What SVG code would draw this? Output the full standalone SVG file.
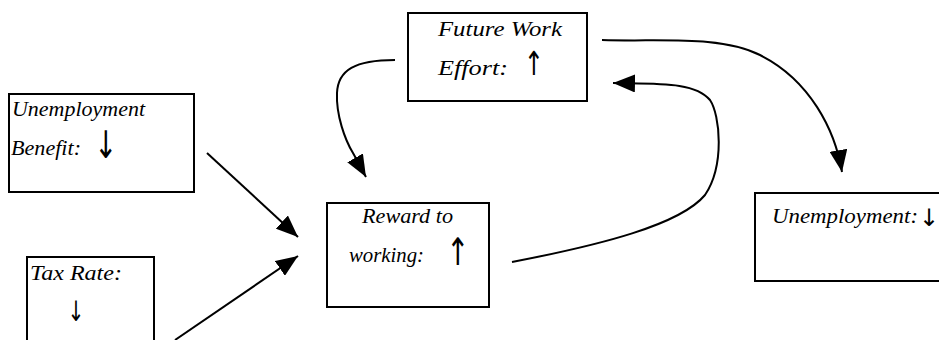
<svg xmlns="http://www.w3.org/2000/svg" width="939" height="340" viewBox="0 0 939 340">
<style>
.box{fill:#fff;stroke:#000;stroke-width:2}
.t{font-family:"Liberation Serif","Times New Roman",serif;font-style:italic;font-size:21px;fill:#000}
.ar{font-family:"DejaVu Sans",sans-serif;fill:#000;text-anchor:middle}
.c{fill:none;stroke:#000;stroke-width:2}
</style>
<defs>
<marker id="ah" markerUnits="userSpaceOnUse" markerWidth="24" markerHeight="18" refX="22" refY="9" orient="auto">
<path d="M0,0 L22,9 L0,18 Z" fill="#000"/>
</marker>
</defs>
<rect width="939" height="340" fill="#fff"/>
<g id="benefit">
<rect class="box" x="9" y="94" width="185" height="98"/>
<text class="t" x="12" y="116" textLength="133" lengthAdjust="spacingAndGlyphs">Unemployment</text>
<text class="t" x="11" y="155" textLength="70" lengthAdjust="spacingAndGlyphs">Benefit:</text>
<text class="ar" font-size="38" transform="translate(106,158) scale(0.72,1)">↓</text>
</g>
<g id="tax">
<rect class="box" x="27" y="257" width="127" height="100"/>
<text class="t" x="30" y="280" textLength="92" lengthAdjust="spacingAndGlyphs">Tax Rate:</text>
<text class="ar" font-size="28" transform="translate(76,321) scale(0.72,1)">↓</text>
</g>
<g id="reward">
<rect class="box" x="327" y="203" width="162" height="104"/>
<text class="t" x="362" y="223" textLength="91" lengthAdjust="spacingAndGlyphs">Reward to</text>
<text class="t" x="349" y="262" textLength="75" lengthAdjust="spacingAndGlyphs">working:</text>
<text class="ar" font-size="38" transform="translate(458,265) scale(0.72,1)">↑</text>
</g>
<g id="future">
<rect class="box" x="408" y="13" width="179" height="88"/>
<text class="t" x="438" y="36" textLength="124" lengthAdjust="spacingAndGlyphs">Future Work</text>
<text class="t" x="438" y="75" textLength="70" lengthAdjust="spacingAndGlyphs">Effort:</text>
<text class="ar" font-size="33" transform="translate(534,75) scale(0.72,1)">↑</text>
</g>
<g id="unemployment">
<rect class="box" x="755" y="193" width="190" height="88"/>
<text class="t" x="772" y="223" textLength="146" lengthAdjust="spacingAndGlyphs">Unemployment:</text>
<text class="ar" x="929" y="226" font-size="24">↓</text>
</g>
<g id="connectors">
<path class="c" d="M207,153 L298,237" marker-end="url(#ah)"/>
<path class="c" d="M175,340 L298,256" marker-end="url(#ah)"/>
<path class="c" d="M395,60 C355,60 338,70 337,93 C336,115 345,140 353,153 C358,162 362,170 366,177" marker-end="url(#ah)"/>
<path class="c" d="M512,262 C600,245 680,225 705,195 C725,165 720,115 710,100 C695,82 660,84 613,83" marker-end="url(#ah)"/>
<path class="c" d="M602,40 C660,42 720,35 760,55 C810,80 835,130 842,172" marker-end="url(#ah)"/>
</g>
</svg>
